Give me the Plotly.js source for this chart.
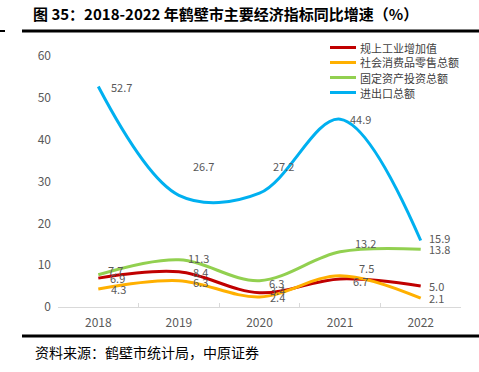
<!DOCTYPE html>
<html><head><meta charset="utf-8">
<script src="https://cdn.plot.ly/plotly-3.0.1.min.js"></script>
<style>body{margin:0;background:#fff}#c{width:479px;height:372px}</style>
</head><body><div id="c"></div>
<script>
const years = ['2018','2019','2020','2021','2022'];
const industry = [6.9, 8.4, 3.4, 6.7, 5.0];
const retail = [4.3, 6.3, 2.4, 7.5, 2.1];
const investment = [7.7, 11.3, 6.3, 13.2, 13.8];
const trade = [52.7, 26.7, 27.2, 44.9, 15.9];
const names = ['规上工业增加值','社会消费品零售总额','固定资产投资总额','进出口总额'];
const colors = ['#C00000','#FFB000','#92D050','#00B0F0'];
const seriesList = [industry, retail, investment, trade];
// label offsets (style only)
const labelYShift = [
  [0, 0, 3, -2, 0],
  [0, -1, 0, 8, 0],
  [5, 2, -2, 9, 0],
  [0, 29, 27, 0, 2]
];
const labelXShift = [
  [11, 13, 9, 12, 7],
  [12, 13, 9, 18, 7],
  [9, 8, 8, 14, 7],
  [12, 13, 12, 9, 7]
];
const font = '"Noto Sans CJK SC", "Microsoft YaHei", sans-serif';
const W = 403, H = 251, L = 58, T = 56;
const px = v => (v - L) / W;
const py = v => (T + H - v) / H;

const traces = seriesList.map((s, i) => ({
  x: years, y: s, name: names[i], type: 'scatter', mode: 'lines',
  line: {color: colors[i], width: 3, shape: 'spline', smoothing: 1},
  hoverinfo: 'skip', showlegend: false
}));

const annotations = [];
seriesList.forEach((s, i) => {
  s.forEach((v, j) => {
    annotations.push({x: j, y: v, xref: 'x', yref: 'y', text: v.toFixed(1),
      showarrow: false, xanchor: 'left', yanchor: 'middle', borderpad: 0,
      xshift: labelXShift[i][j], yshift: labelYShift[i][j],
      font: {family: font, size: 11, color: '#595959'}});
  });
});
// manual legend
const legendRows = [47.5, 62.5, 77.5, 92.5];
const shapes = [];
names.forEach((n, i) => {
  shapes.push({type: 'line', xref: 'paper', yref: 'paper', x0: px(330), x1: px(356),
    y0: py(legendRows[i]), y1: py(legendRows[i]), line: {color: colors[i], width: 3}});
  annotations.push({text: n, xref: 'paper', yref: 'paper', x: px(359), xanchor: 'left',
    y: py(legendRows[i]), yanchor: 'middle', showarrow: false, borderpad: 0,
    font: {family: font, size: 11, color: '#404040'}});
});
annotations.push({text: '资料来源：鹤壁市统计局，中原证券', xref: 'paper', yref: 'paper', x: px(33), xanchor: 'left',
  y: py(352), yanchor: 'middle', showarrow: false, font: {family: font, size: 14, color: '#000'}});
shapes.push(
  {type: 'line', xref: 'paper', yref: 'paper', x0: px(22), x1: px(479), y0: py(31), y1: py(31), line: {color: '#000', width: 3}},
  {type: 'line', xref: 'paper', yref: 'paper', x0: px(0), x1: px(5), y0: py(31), y1: py(31), line: {color: '#000', width: 2}},
  {type: 'line', xref: 'paper', yref: 'paper', x0: px(22), x1: px(479), y0: py(336), y1: py(336), line: {color: '#000', width: 3}}
);

const layout = {
  width: 479, height: 372,
  margin: {l: L, r: 479 - L - W, t: T, b: 372 - T - H},
  paper_bgcolor: '#fff', plot_bgcolor: '#fff',
  font: {family: font, color: '#595959', size: 11},
  title: {text: '图 35：2018-2022 年鹤壁市主要经济指标同比增速（%）',
    font: {family: font, size: 15, color: '#000', weight: 'bold'},
    xref: 'container', yref: 'container', x: 33/479, xanchor: 'left', y: 1 - 15/372, yanchor: 'middle'},
  showlegend: false,
  xaxis: {type: 'category', showgrid: false, showline: true, linecolor: '#D9D9D9', linewidth: 1,
    ticks: 'inside', tickson: 'boundaries', ticklen: 4, tickcolor: '#D9D9D9',
    tickfont: {family: font, size: 12, color: '#595959'}, zeroline: false, range: [-0.5, 4.5],
    ticklabelstandoff: 5},
  yaxis: {range: [0, 60], dtick: 10, showgrid: false, showline: false, zeroline: false,
    tickfont: {family: font, size: 12, color: '#595959'}, ticklabelstandoff: 6},
  shapes: shapes,
  annotations: annotations
};
Plotly.newPlot('c', traces, layout, {displayModeBar: false, staticPlot: true});
</script></body></html>
